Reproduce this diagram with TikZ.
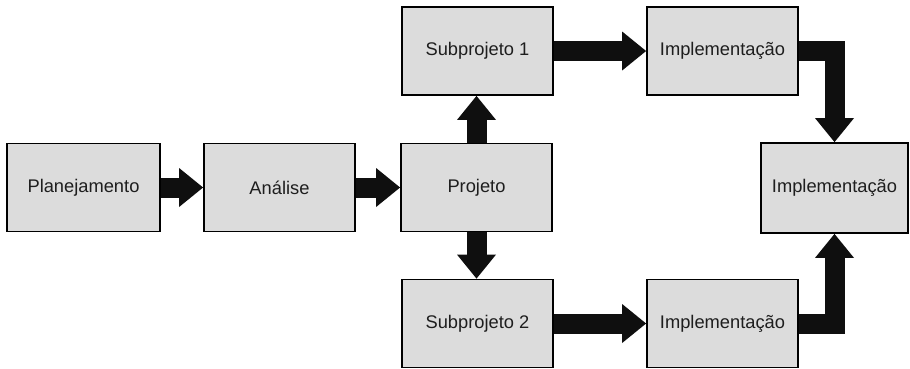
\documentclass[tikz,border=0pt]{standalone}
\usepackage{fontspec}
\setmainfont{Liberation Sans}
\usetikzlibrary{arrows.meta}
\definecolor{boxfill}{HTML}{DCDCDC}
\definecolor{arrowcol}{HTML}{0F0F0F}
\definecolor{txt}{HTML}{1E1E1E}
\begin{document}
\begin{tikzpicture}[x=1pt,y=-1pt,
  stage/.style={draw=black, line width=1.8pt, fill=boxfill, minimum width=151pt, minimum height=88pt,
    inner sep=0pt, font=\fontsize{18.3pt}{22pt}\selectfont, text=txt},
  blockarrow/.style={draw=arrowcol, line width=20pt, line join=miter, line cap=butt,
    -{Triangle[width=39pt,length=24pt,line width=0pt]}}]
\useasboundingbox (0,0) rectangle (910,368);
\node[stage, minimum width=153pt] (plan) at (83.5,187.5) {Planejamento};
\node[stage] (anal) at (279.5,187.5) {Análise};
\node[stage] (proj) at (476.5,187.5) {Projeto};
\node[stage] (sub1) at (477.5,51) {Subprojeto 1};
\node[stage] (imp1) at (722.5,51) {Implementação};
\node[stage, minimum width=147pt, minimum height=90pt] (impR) at (834.5,188) {Implementação};
\node[stage] (sub2) at (477.5,323.5) {Subprojeto 2};
\node[stage] (imp2) at (722.5,323.5) {Implementação};
\draw[blockarrow] (plan) -- (anal);
\draw[blockarrow] (anal) -- (proj);
\draw[blockarrow] (proj.north) -- (proj.north |- sub1.south);
\draw[blockarrow] (proj.south) -- (proj.south |- sub2.north);
\draw[blockarrow] (sub1) -- (imp1);
\draw[blockarrow] (sub2) -- (imp2);
\draw[blockarrow] (imp1.east) -| (impR.north);
\draw[blockarrow] (imp2.east) -| (impR.south);
\end{tikzpicture}
\end{document}
